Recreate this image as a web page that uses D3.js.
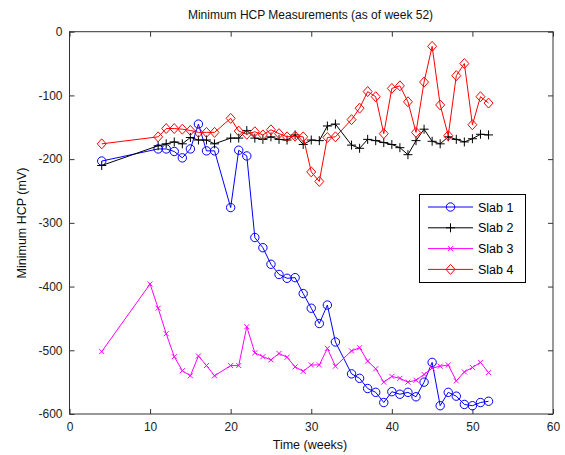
<!DOCTYPE html>
<html><head><meta charset="utf-8">
<script src="https://cdn.jsdelivr.net/npm/d3@7"></script>
<style>body{margin:0;background:#fff}text{font-family:"Liberation Sans",Arial,sans-serif}</style>
</head><body><svg id="c" width="565" height="455"></svg>
<script>
const weeks = [4,11,12,13,14,15,16,17,18,20,21,22,23,24,25,26,27,28,29,30,31,32,33,35,36,37,38,39,40,41,42,43,44,45,46,47,48,49,50,51,52];
const weeks3 = [4,10,11,12,13,14,15,16,17,18,20,21,22,23,24,25,26,27,28,29,30,31,32,33,35,36,37,38,39,40,41,42,43,44,45,46,47,48,49,50,51,52];
const slab1 = [-203,-184,-184,-188,-198,-184,-145,-187,-187,-276,-186,-195,-323,-339,-365,-381,-387,-386,-411,-434,-458,-429,-487,-537,-544,-560,-566,-582,-565,-569,-566,-573,-550,-519,-587,-566,-572,-585,-587,-582,-580];
const slab2 = [-210,-179,-176,-173,-176,-166,-170,-170,-176,-167,-167,-155,-167,-169,-165,-169,-170,-162,-177,-170,-171,-148,-145,-178,-183,-169,-171,-174,-177,-182,-193,-171,-153,-172,-176,-165,-169,-173,-168,-161,-162];
const slab3 = [-502,-396,-434,-474,-510,-532,-540,-509,-524,-540,-524,-524,-463,-504,-510,-515,-505,-511,-526,-533,-523,-523,-497,-525,-501,-496,-517,-529,-550,-541,-544,-550,-547,-538,-528,-525,-523,-548,-534,-527,-519,-535];
const slab4 = [-176,-165,-152,-152,-153,-155,-158,-158,-158,-136,-156,-161,-157,-162,-154,-160,-165,-164,-165,-220,-235,-166,-165,-138,-120,-94,-102,-160,-89,-85,-110,-158,-79,-23,-115,-163,-69,-50,-146,-102,-112];
const xTicks = [0,10,20,30,40,50,60];
const yTicks = [0,-100,-200,-300,-400,-500,-600];
const names = ["Slab 1","Slab 2","Slab 3","Slab 4"];
const colors = ["#0000ff","#000000","#ff00ff","#ff0000"];
const markers = ["circle","plus","x","diamond"];

const series = [[weeks,slab1],[weeks,slab2],[weeks3,slab3],[weeks,slab4]];

const svg = d3.select("#c");
const L=69.5, R=553, T=31.7, B=414;
const x = d3.scaleLinear().domain([0,60]).range([L,R]);
const y = d3.scaleLinear().domain([-600,0]).range([B,T]);
const axCol = "#333";

svg.append("rect").attr("x",L).attr("y",T).attr("width",R-L).attr("height",B-T).attr("fill","#fff").attr("stroke",axCol).attr("stroke-width",1);

const tl = 5;
svg.append("g").attr("transform",`translate(0,${B})`)
  .call(d3.axisBottom(x).tickValues(xTicks).tickSizeInner(-tl).tickSizeOuter(0).tickPadding(8))
  .call(g=>{g.select(".domain").remove();g.selectAll("line").attr("stroke",axCol);g.selectAll("text").attr("font-size",12).attr("fill","#222").attr("font-family","Liberation Sans, Arial, sans-serif");});
svg.append("g").attr("transform",`translate(0,${T})`)
  .call(d3.axisTop(x).tickValues(xTicks).tickSizeInner(-tl).tickSizeOuter(0).tickFormat(""))
  .call(g=>{g.select(".domain").remove();g.selectAll("line").attr("stroke",axCol);});
svg.append("g").attr("transform",`translate(${L},0)`)
  .call(d3.axisLeft(y).tickValues(yTicks).tickSizeInner(-tl).tickSizeOuter(0).tickPadding(7).tickFormat(d=>d===0?"0":String(d)))
  .call(g=>{g.select(".domain").remove();g.selectAll("line").attr("stroke",axCol);g.selectAll("text").attr("font-size",12).attr("fill","#222").attr("font-family","Liberation Sans, Arial, sans-serif");});
svg.append("g").attr("transform",`translate(${R},0)`)
  .call(d3.axisRight(y).tickValues(yTicks).tickSizeInner(-tl).tickSizeOuter(0).tickFormat(""))
  .call(g=>{g.select(".domain").remove();g.selectAll("line").attr("stroke",axCol);});

function drawMarker(g, type, cx, cy, col){
  if(type==="circle") g.append("circle").attr("cx",cx).attr("cy",cy).attr("r",4.2).attr("fill","none").attr("stroke",col).attr("stroke-width",1);
  else if(type==="plus") g.append("path").attr("d",`M${cx-4.5},${cy}H${cx+4.5}M${cx},${cy-4.5}V${cy+4.5}`).attr("stroke",col).attr("stroke-width",1);
  else if(type==="x") g.append("path").attr("d",`M${cx-2.5},${cy-2.5}L${cx+2.5},${cy+2.5}M${cx-2.5},${cy+2.5}L${cx+2.5},${cy-2.5}`).attr("stroke",col).attr("stroke-width",1);
  else if(type==="diamond") g.append("path").attr("d",`M${cx},${cy-5}L${cx+4.5},${cy}L${cx},${cy+5}L${cx-4.5},${cy}Z`).attr("fill","none").attr("stroke",col).attr("stroke-width",1);
}

const line = d3.line().x(d=>x(d[0])).y(d=>y(d[1]));
series.forEach(([ws,vals],i)=>{
  const pts = ws.map((w,j)=>[w, vals[j]]);
  const g = svg.append("g");
  g.append("path").datum(pts).attr("d",line).attr("fill","none").attr("stroke",colors[i]).attr("stroke-width",1);
  pts.forEach(p=>drawMarker(g, markers[i], x(p[0]), y(p[1]), colors[i]));
});

// legend
const lg = svg.append("g");
lg.append("rect").attr("x",419.5).attr("y",194.5).attr("width",106).attr("height",88).attr("fill","#fff").attr("stroke","#000").attr("stroke-width",1);
names.forEach((n,i)=>{
  const yy = 207 + i*20.8;
  lg.append("line").attr("x1",428).attr("x2",473).attr("y1",yy).attr("y2",yy).attr("stroke",colors[i]).attr("stroke-width",1);
  drawMarker(lg, markers[i], 450.5, yy, colors[i]);
  lg.append("text").attr("x",478).attr("y",yy+4.5).attr("font-size",12.5).attr("fill","#000").text(n);
});

svg.append("text").attr("x",310.5).attr("y",19).attr("text-anchor","middle").attr("font-size",12).attr("fill","#111").text("Minimum HCP Measurements (as of week 52)");
svg.append("text").attr("x",310).attr("y",449).attr("text-anchor","middle").attr("font-size",12.5).attr("fill","#111").text("Time (weeks)");
svg.append("text").attr("transform","translate(26,223) rotate(-90)").attr("text-anchor","middle").attr("font-size",12.5).attr("fill","#111").text("Minimum HCP (mV)");
</script></body></html>
